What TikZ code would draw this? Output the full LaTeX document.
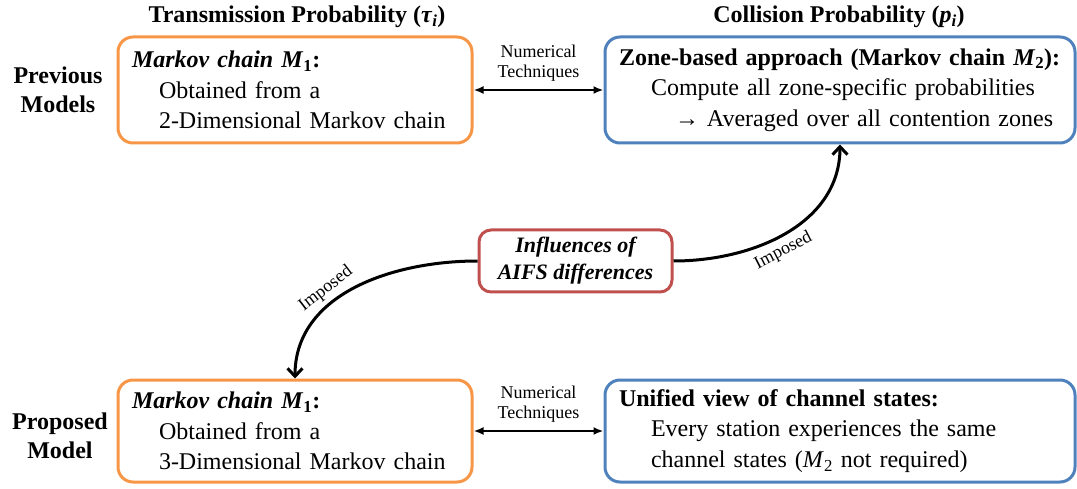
\documentclass[tikz,border=0pt]{standalone}
\usepackage{fontspec}
\setmainfont{Liberation Serif}
\usetikzlibrary{arrows.meta}
\definecolor{borange}{HTML}{F79646}
\definecolor{bblue}{HTML}{4F81BD}
\definecolor{bred}{HTML}{C0504D}
\tikzset{
  mainfont/.style={font=\fontsize{24}{30.5}\selectfont},
  smallfont/.style={font=\fontsize{18}{20}\selectfont},
  boxbase/.style={draw, line width=3pt, rounded corners=15pt, mainfont,
     align=left, inner xsep=14pt, inner ysep=0pt, minimum height=106pt},
  obox/.style={boxbase, draw=borange},
  bbox/.style={boxbase, draw=bblue},
  rbox/.style={draw=bred, line width=3pt, rounded corners=12pt, align=center,
     font=\fontsize{22}{27}\selectfont\bfseries\itshape,
     minimum width=193pt, minimum height=62pt, inner sep=0pt},
  header/.style={font=\fontsize{24}{30.5}\selectfont\bfseries, inner sep=0pt},
  rowlabel/.style={font=\fontsize{24}{29}\selectfont\bfseries, align=center, inner sep=0pt},
  numarrow/.style={line width=2pt, {Latex[length=10pt,width=8pt]}-{Latex[length=10pt,width=8pt]}},
  numlabel/.style={smallfont, align=center, inner sep=0pt},
  imparrow/.style={line width=3pt, -{Straight Barb[length=8pt,width=15pt]}},
  implabel/.style={smallfont, inner sep=0pt}
}
\begin{document}
\begin{tikzpicture}
\useasboundingbox (0,0) rectangle (1077pt,-489pt);
\begin{scope}[x=1pt,y=1pt]
% headers
\node[header] (h1) at (297,-17) {Transmission Probability (\textit{τ}\textsubscript{\textit{i}})};
\node[header] (h2) at (839,-17) {Collision Probability (\textit{p}\textsubscript{\textit{i}})};
% row labels
\node[rowlabel] (prev) at (58,-90) {Previous\\Models};
\node[rowlabel] (prop) at (60,-436) {Proposed\\Model};
% boxes
\node[obox, text width=326pt] (tl) at (295,-90) {%
\textbf{\textit{Markov chain M}\textsubscript{1}:}\\
\hspace*{27pt}Obtained from a\\
\hspace*{27pt}2-Dimensional Markov chain};
\node[bbox, text width=442pt] (tr) at (840,-90) {%
\textbf{Zone-based approach (Markov chain \textit{M}\textsubscript{2}):}\\
\hspace*{32pt}Compute all zone-specific probabilities\\
\hspace*{56pt}→ Averaged over all contention zones};
\node[obox, text width=326pt, minimum height=102pt] (bl) at (295,-431) {%
\textbf{\textit{Markov chain M}\textsubscript{1}:}\\
\hspace*{27pt}Obtained from a\\
\hspace*{27pt}3-Dimensional Markov chain};
\node[bbox, text width=442pt, minimum height=102pt] (br) at (840,-431) {%
\textbf{Unified view of channel states:}\\
\hspace*{32pt}Every station experiences the same\\
\hspace*{32pt}channel states (\textit{M}\textsubscript{2} not required)};
\node[rbox] (rd) at (575.5,-261) {Influences of\\AIFS differences};
% connectors
\draw[numarrow] (tl.east) -- (tr.west) node[midway, above=8pt, numlabel] {Numerical\\Techniques};
\draw[numarrow] (bl.east) -- (br.west) node[midway, above=8pt, numlabel] {Numerical\\Techniques};
\draw[imparrow] (rd.west) to[out=180,in=90] node[pos=0.6, sloped, above=5pt, implabel] {Imposed} (bl.north);
\draw[imparrow] (rd.east) to[out=0,in=-90] node[pos=0.45, sloped, below=5pt, implabel] {Imposed} (tr.south);
\end{scope}
\end{tikzpicture}
\end{document}
